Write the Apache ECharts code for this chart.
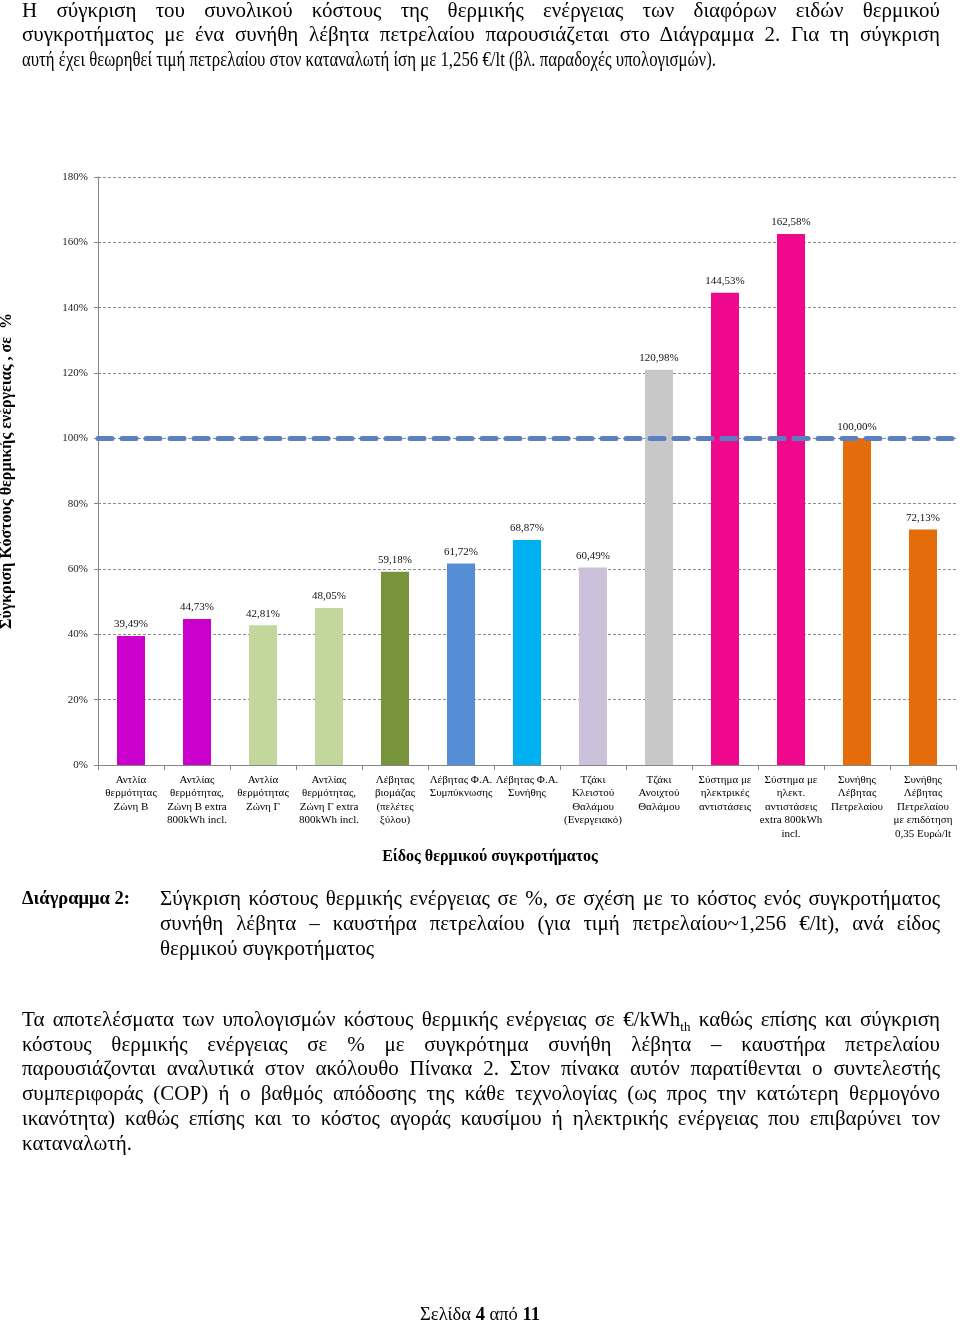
<!DOCTYPE html>
<html>
<head>
<meta charset="utf-8">
<script src="https://cdn.jsdelivr.net/npm/echarts@6/dist/echarts.min.js"></script>
<style>
  html, body { margin: 0; padding: 0; background: #fff; }
  #page { position: relative; width: 960px; height: 1323px; overflow: hidden; }
  #chart { position: absolute; left: 0; top: 0; width: 960px; height: 1323px; }
  .ln { position: absolute; font-family: "Liberation Serif", "DejaVu Serif", serif; font-size: 21px; line-height: 24px; color: #000; white-space: nowrap; }
  .j { text-align: justify; text-align-last: justify; white-space: normal; }
  .ln sub { font-size: 13px; line-height: 0; }
  .fit { display: inline-block; transform-origin: 0 50%; }
</style>
</head>
<body>
<div id="page">
  <div id="chart"></div>
</div>
<script>
const categories = [
  "Αντλία\nθερμότητας\nΖώνη Β",
  "Αντλίας\nθερμότητας,\nΖώνη Β extra\n800kWh incl.",
  "Αντλία\nθερμότητας\nΖώνη Γ",
  "Αντλίας\nθερμότητας,\nΖώνη Γ extra\n800kWh incl.",
  "Λέβητας\nβιομάζας\n(πελέτες\nξύλου)",
  "Λέβητας Φ.Α.\nΣυμπύκνωσης",
  "Λέβητας Φ.Α.\nΣυνήθης",
  "Τζάκι\nΚλειστού\nΘαλάμου\n(Ενεργειακό)",
  "Τζάκι\nΑνοιχτού\nΘαλάμου",
  "Σύστημα με\nηλεκτρικές\nαντιστάσεις",
  "Σύστημα με\nηλεκτ.\nαντιστάσεις\nextra 800kWh\nincl.",
  "Συνήθης\nΛέβητας\nΠετρελαίου",
  "Συνήθης\nΛέβητας\nΠετρελαίου\nμε επιδότηση\n0,35 Ευρώ/lt"
];
const costPercent = [39.49, 44.73, 42.81, 48.05, 59.18, 61.72, 68.87, 60.49, 120.98, 144.53, 162.58, 100.00, 72.13];
const barColors = ["#CC00CC", "#CC00CC", "#C3D69B", "#C3D69B", "#77933C", "#558ED5", "#00B0F0", "#CCC1DA", "#C8C8C8", "#F0088C", "#F0088C", "#E46C0A", "#E46C0A"];
const referenceLevel = 100;
const yTicks = [0, 20, 40, 60, 80, 100, 120, 140, 160, 180];
const yAxisTitle = "Σύγκριση Κόστους θερμικής ενέργειας , σε  %";
const xAxisTitle = "Είδος θερμικού συγκροτήματος";

const textLines = [
  { t: "Η σύγκριση του συνολικού κόστους της θερμικής ενέργειας των διαφόρων ειδών θερμικού", x: 22, w: 918, y: 10, j: true },
  { t: "συγκροτήματος με ένα συνήθη λέβητα πετρελαίου παρουσιάζεται στο Διάγραμμα 2. Για τη σύγκριση", x: 22, w: 918, y: 34, j: true },
  { t: "αυτή έχει θεωρηθεί τιμή πετρελαίου στον καταναλωτή ίση με 1,256 €/lt (βλ. παραδοχές υπολογισμών).", x: 22, w: 918, y: 59, j: false, fit: 694 },
  { t: "<b>Διάγραμμα 2:</b>", x: 22, w: 130, y: 898, j: false, fs: 18.5 },
  { t: "Σύγκριση κόστους θερμικής ενέργειας σε %, σε σχέση με το κόστος ενός συγκροτήματος", x: 160, w: 780, y: 898, j: true },
  { t: "συνήθη λέβητα – καυστήρα πετρελαίου (για τιμή πετρελαίου~1,256 €/lt), ανά είδος", x: 160, w: 780, y: 923, j: true },
  { t: "θερμικού συγκροτήματος", x: 160, w: 780, y: 948, j: false },
  { t: "Τα αποτελέσματα των υπολογισμών κόστους θερμικής ενέργειας σε €/kWh<sub>th</sub> καθώς επίσης και σύγκριση", x: 22, w: 918, y: 1019, j: true },
  { t: "κόστους θερμικής ενέργειας σε % με συγκρότημα συνήθη λέβητα – καυστήρα πετρελαίου", x: 22, w: 918, y: 1044, j: true },
  { t: "παρουσιάζονται αναλυτικά στον ακόλουθο Πίνακα 2. Στον πίνακα αυτόν παρατίθενται ο συντελεστής", x: 22, w: 918, y: 1068, j: true },
  { t: "συμπεριφοράς (COP) ή ο βαθμός απόδοσης της κάθε τεχνολογίας (ως προς την κατώτερη θερμογόνο", x: 22, w: 918, y: 1093, j: true },
  { t: "ικανότητα) καθώς επίσης και το κόστος αγοράς καυσίμου ή ηλεκτρικής ενέργειας που επιβαρύνει τον", x: 22, w: 918, y: 1118, j: true },
  { t: "καταναλωτή.", x: 22, w: 918, y: 1143, j: false }
];

const page = document.getElementById("page");
textLines.forEach(function (l) {
  const d = document.createElement("div");
  d.className = "ln" + (l.j ? " j" : "");
  d.style.left = l.x + "px";
  d.style.width = l.w + "px";
  d.style.top = (l.y - 12) + "px";
  if (l.fs) d.style.fontSize = l.fs + "px";
  if (l.fit) {
    const s = document.createElement("span");
    s.className = "fit";
    s.innerHTML = l.t;
    d.appendChild(s);
    page.appendChild(d);
    const nat = s.getBoundingClientRect().width;
    if (nat > 0) s.style.transform = "scaleX(" + (l.fit / nat) + ")";
  } else {
    d.innerHTML = l.t;
    page.appendChild(d);
  }
});
const foot = document.createElement("div");
foot.className = "ln";
foot.style.left = "0px"; foot.style.width = "960px"; foot.style.textAlign = "center";
foot.style.top = (1314 - 12) + "px"; foot.style.fontSize = "18.5px";
foot.innerHTML = "Σελίδα <b>4</b> από <b>11</b>";
page.appendChild(foot);

function pct(v) { return v.toFixed(2).replace(".", ",") + "%"; }

const chart = echarts.init(document.getElementById("chart"), null, { renderer: "canvas" });
const serif = "Liberation Serif";
chart.setOption({
  backgroundColor: "transparent",
  animation: false,
  grid: { left: 98, right: 4, top: 177, bottom: 558, containLabel: false, outerBoundsMode: "none" },
  xAxis: {
    type: "category",
    data: categories,
    name: xAxisTitle,
    nameLocation: "middle",
    nameGap: 84,
    nameTextStyle: { fontFamily: serif, fontSize: 16, fontWeight: "bold", color: "#000", padding: [0, 74, 0, 0] },
    axisLine: { lineStyle: { color: "#868686", width: 1 } },
    axisTick: { show: true, alignWithLabel: false, length: 5, lineStyle: { color: "#868686" } },
    axisLabel: { interval: 0, fontFamily: serif, fontSize: 11, color: "#000", lineHeight: 13.5, margin: 8 }
  },
  yAxis: {
    type: "value",
    min: yTicks[0],
    max: yTicks[yTicks.length - 1],
    interval: 20,
    name: yAxisTitle,
    nameLocation: "middle",
    nameGap: 83,
    nameTextStyle: { fontFamily: serif, fontSize: 16, fontWeight: "bold", color: "#000" },
    axisLine: { show: true, lineStyle: { color: "#868686", width: 1 } },
    axisTick: { show: true, length: 4, lineStyle: { color: "#868686" } },
    axisLabel: { fontFamily: serif, fontSize: 11, color: "#222", margin: 10, formatter: function (v) { return v + "%"; } },
    splitLine: { show: true, lineStyle: { color: "#8c8c8c", width: 1, type: [3, 2] } }
  },
  series: [{
    type: "bar",
    data: costPercent.map(function (v, i) { return { value: v, itemStyle: { color: barColors[i] } }; }),
    barWidth: 28,
    label: {
      show: true, position: "top", distance: 6,
      fontFamily: serif, fontSize: 11, color: "#111",
      formatter: function (p) { return pct(p.value); }
    },
    markLine: {
      silent: true,
      symbol: ["none", "none"],
      label: { show: false },
      lineStyle: { color: "#5B7FC0", width: 5, type: [14, 10], cap: "round", opacity: 1 },
      data: [{ yAxis: referenceLevel }]
    }
  }]
});
</script>
</body>
</html>
